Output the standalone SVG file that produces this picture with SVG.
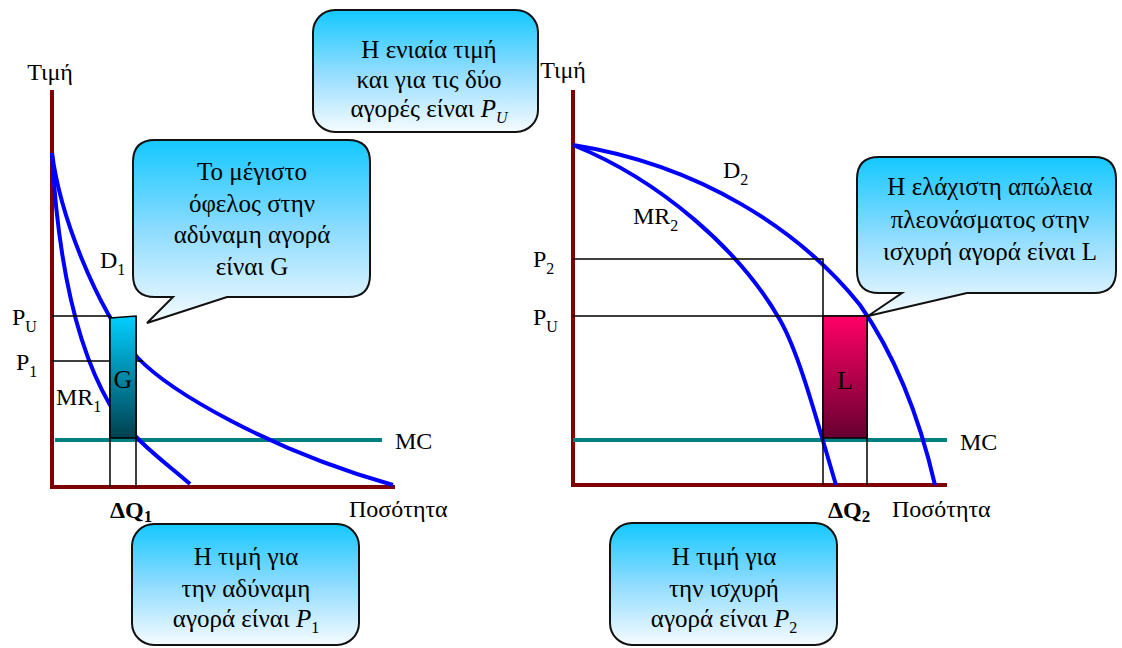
<svg xmlns="http://www.w3.org/2000/svg" width="1122" height="648" viewBox="0 0 1122 648">
<defs>
<linearGradient id="gCall" x1="0" y1="0" x2="0" y2="1">
<stop offset="0" stop-color="#14c8ff"/>
<stop offset="0.5" stop-color="#8fdcff"/>
<stop offset="1" stop-color="#f6fbff"/>
</linearGradient>
<linearGradient id="gG" x1="0" y1="0" x2="0" y2="1">
<stop offset="0" stop-color="#00d0ff"/>
<stop offset="1" stop-color="#00404f"/>
</linearGradient>
<linearGradient id="gL" x1="0" y1="0" x2="0" y2="1">
<stop offset="0" stop-color="#ff0066"/>
<stop offset="1" stop-color="#660030"/>
</linearGradient>
<style>
text{font-family:"Liberation Serif","Times New Roman",serif;font-size:24px;fill:#000}
.gr{font-size:25px}
.ct{text-anchor:middle}
.sub{font-size:16px}
.big{font-size:26px}
.axis{stroke:#7f0000;stroke-width:4;fill:none}
.curve{stroke:#0000ff;stroke-width:4;fill:none}
.mc{stroke:#008080;stroke-width:4;fill:none}
.thin{stroke:#000;stroke-width:1.5;fill:none}
.call{fill:url(#gCall);stroke:#111;stroke-width:2}
.bold{font-weight:bold;font-size:24px}
</style>
</defs>

<g id="chart-left">
<path class="axis" d="M52,90 V487 H395"/>
<line class="mc" x1="55" y1="440" x2="382" y2="440"/>
<path class="curve" d="M52,153 C60,215 95,305 137,357 C170,392 270,450 393,485"/>
<path class="curve" d="M52,153 C58,265 78,350 110,405 C135,442 165,462 190,484"/>
<path class="thin" d="M52,316 H110 M52,361 H143 M110,316 V487 M136,316 V487"/>
<path d="M110,318 L136,316 V438 H110 Z" fill="url(#gG)" stroke="#000" stroke-width="1.5"/>
<text x="123" y="388" class="ct big">G</text>
<text x="50" y="80" class="ct">Τιμή</text>
<text x="12" y="325">P<tspan class="sub" dy="7">U</tspan></text>
<text x="16" y="370">P<tspan class="sub" dy="7">1</tspan></text>
<text x="56" y="405">MR<tspan class="sub" dy="7">1</tspan></text>
<text x="100" y="268">D<tspan class="sub" dy="7">1</tspan></text>
<text x="395" y="449">MC</text>
<text x="110" y="518" class="bold">ΔQ<tspan font-size="17" dy="4">1</tspan></text>
<text x="349" y="517" font-size="26">Ποσότητα</text>
</g>

<g id="chart-right">
<path class="axis" d="M573,90 V485 H947"/>
<line class="mc" x1="573" y1="440" x2="947" y2="440"/>
<path class="curve" d="M573,145 C700,165 800,230 860,305 C895,355 920,420 935,485"/>
<path class="curve" d="M573,145 C660,180 740,250 780,320 C800,355 818,425 836,485"/>
<path class="thin" d="M573,259 H823 V485 M573,316 H867 V485"/>
<rect x="823" y="316" width="44" height="122" fill="url(#gL)" stroke="#000" stroke-width="1.5"/>
<text x="845" y="389" class="ct big">L</text>
<text x="563" y="78" class="ct">Τιμή</text>
<text x="533" y="267">P<tspan class="sub" dy="7">2</tspan></text>
<text x="533" y="325">P<tspan class="sub" dy="7">U</tspan></text>
<text x="633" y="224">MR<tspan class="sub" dy="7">2</tspan></text>
<text x="723" y="178">D<tspan class="sub" dy="7">2</tspan></text>
<text x="960" y="450">MC</text>
<text x="828" y="518" class="bold">ΔQ<tspan font-size="17" dy="4">2</tspan></text>
<text x="892" y="517" font-size="26">Ποσότητα</text>
</g>

<g id="callout-uniform">
<rect class="call" x="313" y="10" width="225" height="122" rx="22"/>
<text x="429" y="58" class="ct gr">Η ενιαία τιμή</text>
<text x="429" y="88" class="ct gr">και για τις δύο</text>
<text x="429" y="117" class="ct gr">αγορές είναι <tspan font-style="italic">P</tspan><tspan class="sub" font-style="italic" dy="6">U</tspan></text>
</g>

<g id="callout-G">
<path class="call" d="M155,140 H348 Q370,140 370,162 V275 Q370,297 348,297 H227 L147,323 L173,297 H155 Q133,297 133,275 V162 Q133,140 155,140 Z"/>
<text x="252" y="180" class="ct gr">Το μέγιστο</text>
<text x="252" y="212" class="ct gr">όφελος στην</text>
<text x="252" y="243" class="ct gr">αδύναμη αγορά</text>
<text x="252" y="275" class="ct gr">είναι G</text>
</g>

<g id="callout-L">
<path class="call" d="M879,157 H1094 Q1116,157 1116,179 V271 Q1116,293 1094,293 H967 L868,316 L902,293 H879 Q857,293 857,271 V179 Q857,157 879,157 Z"/>
<text x="990" y="195" class="ct gr">Η ελάχιστη απώλεια</text>
<text x="990" y="228" class="ct gr">πλεονάσματος στην</text>
<text x="990" y="260" class="ct gr">ισχυρή αγορά είναι L</text>
</g>

<g id="callout-P1">
<rect class="call" x="132" y="524" width="227" height="121" rx="22"/>
<text x="246" y="565" class="ct gr">Η τιμή για</text>
<text x="246" y="597" class="ct gr">την αδύναμη</text>
<text x="246" y="627" class="ct gr">αγορά είναι <tspan font-style="italic">P</tspan><tspan class="sub" dy="6">1</tspan></text>
</g>

<g id="callout-P2">
<rect class="call" x="610" y="523" width="227" height="122" rx="22"/>
<text x="724" y="565" class="ct gr">Η τιμή για</text>
<text x="724" y="597" class="ct gr">την ισχυρή</text>
<text x="724" y="627" class="ct gr">αγορά είναι <tspan font-style="italic">P</tspan><tspan class="sub" dy="6">2</tspan></text>
</g>
</svg>
